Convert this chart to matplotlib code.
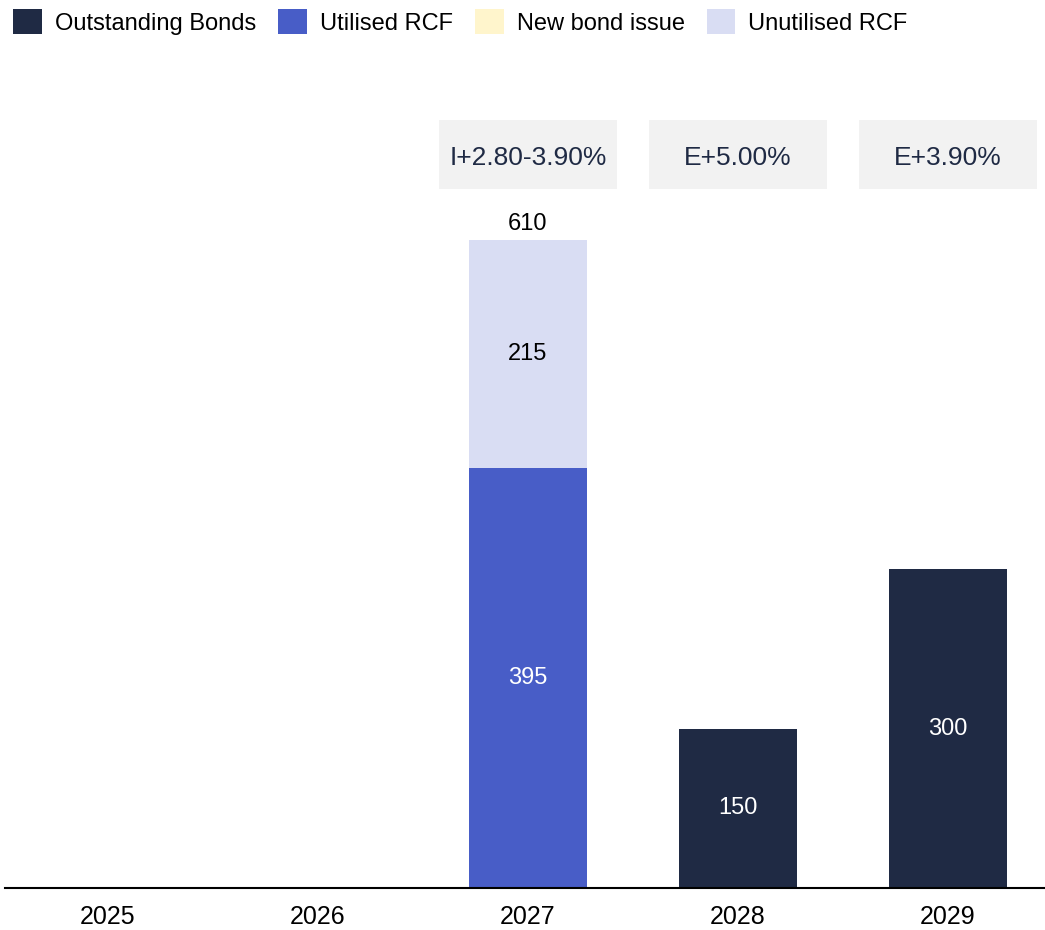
import matplotlib.pyplot as plt
import matplotlib.patches as mpatches
import numpy as np

plt.rcParams['font.family'] = ['Liberation Sans', 'DejaVu Sans']

# data
years = ['2025', '2026', '2027', '2028', '2029']
outstanding_bonds = [0, 0, 0, 150, 300]
utilised_rcf = [0, 0, 395, 0, 0]
new_bond_issue = [0, 0, 0, 0, 0]
unutilised_rcf = [0, 0, 215, 0, 0]
margins = ['', '', 'I+2.80-3.90%', 'E+5.00%', 'E+3.90%']

navy = '#1f2a44'
blue = '#485dc7'
yellow = '#fff5cc'
lilac = '#d9ddf3'

fig = plt.figure(figsize=(10.45, 9.3), dpi=100)
ax = fig.add_axes([5 / 1045, 42 / 930, 1040 / 1045, 788 / 930])

x = np.arange(len(years))
w = 0.562
b0 = np.array(outstanding_bonds, dtype=float)
b1 = b0 + np.array(utilised_rcf)
b2 = b1 + np.array(new_bond_issue)
totals = b2 + np.array(unutilised_rcf)

ax.bar(x, outstanding_bonds, w, color=navy, label='Outstanding Bonds')
ax.bar(x, utilised_rcf, w, bottom=b0, color=blue, label='Utilised RCF')
ax.bar(x, new_bond_issue, w, bottom=b1, color=yellow, label='New bond issue')
ax.bar(x, unutilised_rcf, w, bottom=b2, color=lilac, label='Unutilised RCF')

# segment labels
for series, bottom, col in [(outstanding_bonds, b0 * 0, 'white'),
                            (utilised_rcf, b0, 'white'),
                            (new_bond_issue, b1, 'black'),
                            (unutilised_rcf, b2, 'black')]:
    for i, v in enumerate(series):
        if v > 0:
            ax.text(x[i], bottom[i] + v / 2, f"{v}", ha='center', va='center',
                    color=col, fontsize=17)

# total above stacked bars with more than one segment
for i in range(len(years)):
    parts = [s[i] for s in (outstanding_bonds, utilised_rcf, new_bond_issue, unutilised_rcf) if s[i] > 0]
    if len(parts) > 1:
        ax.annotate(f"{int(totals[i])}", (x[i], totals[i]), xytext=(0, 3.5),
                    textcoords='offset points', ha='center', va='bottom', fontsize=17)

# grey margin boxes
for i, m in enumerate(margins):
    if m:
        ax.add_patch(mpatches.Rectangle((x[i] - 0.424, 658), 0.848, 65, facecolor='#f2f2f2',
                                        edgecolor='none', clip_on=False))
        ax.text(x[i], 687.2, m, ha='center', va='center', fontsize=19, color=navy)

ax.set_xlim(-0.4905, 4.462)
ax.set_ylim(0, 741.8)
ax.set_xticks(x)
ax.set_xticklabels(years, fontsize=18)
ax.tick_params(axis='x', length=0, pad=12)
ax.set_yticks([])
for s in ['top', 'right', 'left']:
    ax.spines[s].set_visible(False)
ax.spines['bottom'].set_linewidth(1.5)

fig.legend(loc='upper left', bbox_to_anchor=(4 / 1045, 1.0), ncol=4, frameon=False, fontsize=17,
           handlelength=1.2, handleheight=1.2, handletextpad=0.55, columnspacing=0.95,
           borderaxespad=0.2, borderpad=0.2)

fig.savefig('out.png', dpi=100)
